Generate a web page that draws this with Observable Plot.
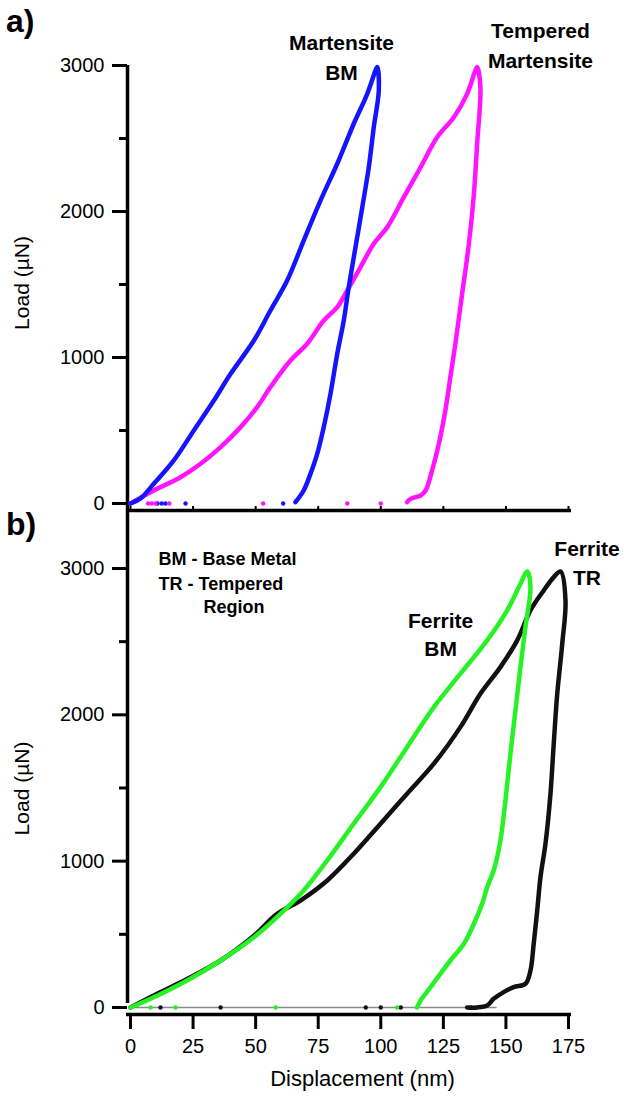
<!DOCTYPE html>
<html>
<head>
<meta charset="utf-8">
<script src="https://cdn.jsdelivr.net/npm/d3@7"></script>
<script src="https://cdn.jsdelivr.net/npm/@observablehq/plot@0.6"></script>
<style>
  html, body { margin: 0; padding: 0; background: #fff; }
  #wrap { position: relative; width: 624px; height: 1097px; overflow: hidden; font-family: 'Liberation Sans', Arial, Helvetica, sans-serif; }
  #topPanel, #botPanel { position: absolute; left: 0; }
  #topPanel { top: 0; }
  #botPanel { top: 500px; }
  .tag { position: absolute; left: 6px; font-weight: bold; font-size: 32px; line-height: 1; color: #000; }
</style>
</head>
<body>
<div id="wrap">
  <div id="topPanel"></div>
  <div id="botPanel"></div>
  <div class="tag" style="top:5px">a)</div>
  <div class="tag" style="top:508px">b)</div>
</div>
<script>
// ---- axis ticks ----
const xTicks = [0, 25, 50, 75, 100, 125, 150, 175];
const yTicks = [0, 1000, 2000, 3000];
const yMinorTicks = [500, 1500, 2500];

// ---- series: [displacement (nm), load (µN)] — loading then unloading ----
const martensiteBM = [
  [0,0],[4,35],[9.3,135],[17.3,295],[25.3,500],[33.3,705],[40,888],[49.3,1116],[55.9,1322],
  [62.6,1527],[69.2,1801],[75.9,2075],[82.6,2327],[89.2,2601],[94.6,2806],[97.9,2966],[98.6,2990],
  [99.2,2829],[97.2,2578],[95.2,2303],[92.6,2029],[89.9,1756],[87.2,1482],[85.2,1253],[82.6,1025],
  [79.9,751],[77.2,523],[74.6,340],[71.9,203],[69.2,89],[65.9,9]
];
const temperedMartensite = [
  [0,0],[9.3,89],[20,180],[28,272],[36,386],[44,523],[50.6,660],[55.9,797],[63.9,979],[70.6,1094],
  [77.2,1253],[82.6,1345],[86.6,1459],[91.9,1619],[97.2,1779],[102.6,1893],[109.2,2098],[115.9,2303],
  [122.5,2509],[129.2,2646],[134.5,2806],[137.8,2966],[138.5,2990],
  [139.8,2851],[138.5,2464],[137.2,2121],[135.2,1779],[132.5,1436],[129.8,1094],[127.8,865],
  [125.8,637],[123.2,409],[120.5,226],[117.9,89],[115.9,55],[111.9,32],[110.5,9]
];
const ferriteBM = [
  [0,0],[9.3,70],[22.6,185],[36,321],[49.3,480],[59.9,640],[69.2,800],[78.6,1005],[89.2,1256],
  [99.9,1506],[110.5,1779],[121.2,2053],[131.8,2281],[142.5,2509],[150.5,2714],[155.8,2896],[158.5,2980],
  [159.8,2873],[157.8,2600],[155.8,2326],[153.8,2030],[151.8,1734],[149.8,1415],[147.8,1141],[145.1,936],
  [142.5,822],[140.5,709],[137.2,572],[133.2,435],[127.8,321],[123.8,230],[119.9,139],[115.9,48],[114.5,0]
];
const ferriteTR = [
  [0,0],[9.3,82],[22.6,194],[36,321],[49.3,490],[58.6,640],[67.9,731],[78.6,868],[89.2,1051],
  [99.9,1256],[110.5,1461],[121.2,1666],[131.8,1916],[139.8,2144],[147.8,2326],[154.5,2509],
  [159.8,2714],[165.1,2850],[169.1,2941],[171.8,2980],
  [173.8,2782],[172.5,2486],[170.5,2144],[169.1,1802],[167.8,1461],[165.8,1119],[163.8,891],
  [162.5,663],[161.1,435],[159.8,253],[157.8,162],[153.1,139],[149.1,105],[145.1,59],[142.5,14],
  [138.5,0],[134.5,0]
];
// scattered points recorded near zero load (displacement, nm)
const martensiteBMZero = [10.8, 12.5, 14, 22, 61];
const temperedMartensiteZero = [7, 8.5, 10, 15.5, 53, 86.6, 100];
const ferriteBMZero = [8, 18, 58, 106.5];
const ferriteTRZero = [12, 36, 94, 100, 108, 136];
const ferriteTRReturn = [[2, 0], [146, 0]];

// ---- annotation text ----
const topLabels = [
  {x: 84.3, y: 3068, text: "Martensite\nBM"},
  {x: 163.8, y: 3149, text: "Tempered\nMartensite"}
];
const bottomLabels = [
  {x: 123.9, y: 2561, text: "Ferrite\nBM"},
  {x: 182.4, y: 3047, text: "Ferrite\nTR"}
];
const legendLines = [
  {x: 11.2, y: 3061, text: "BM - Base Metal"},
  {x: 11.2, y: 2890, text: "TR - Tempered"},
  {x: 29.2, y: 2733, text: "Region"}
];

const FONT = "'Liberation Sans', Arial, Helvetica, sans-serif";
const BLUE = "#1414ff", MAGENTA = "#ff14ff", GREEN = "#26f226", BLACK = "#111111";
const Y_DOMAIN = [-48, 3000];

function yAxisMarks(labelDy) {
  return [
    Plot.axisY(yTicks, {tickSize: 15, tickPadding: 8, strokeWidth: 3, fontSize: 20, dx: -3, tickFormat: "d", label: null}),
    Plot.axisY(yMinorTicks, {tickSize: 8, strokeWidth: 3, dx: -3, tickFormat: () => "", label: null}),
    Plot.text(["Load (µN)"], {frameAnchor: "left", textAnchor: "middle", rotate: -90, dx: -108, dy: labelDy, fontSize: 21})
  ];
}
function series(data, color) {
  return Plot.line(data, {x: d => d[0], y: d => d[1], curve: "catmull-rom", stroke: color, strokeWidth: 4.5, strokeLinejoin: "round", strokeLinecap: "round"});
}
function zeros(data, color) {
  return Plot.dot(data, {x: d => d, y: () => 0, r: 2.2, fill: color, stroke: null});
}
const labelStyle = {x: "x", y: "y", text: "text", fontWeight: "bold", fontSize: 21, lineAnchor: "middle"};

const topPlot = Plot.plot({
  width: 624, height: 512,
  marginTop: 65, marginBottom: 2, marginLeft: 130, marginRight: 56,
  style: {fontFamily: FONT, background: "transparent", overflow: "visible", color: "#000"},
  x: {domain: [0, 175], axis: null},
  y: {domain: Y_DOMAIN},
  marks: [
    Plot.ruleX([0], {dx: -3, strokeWidth: 3.5}),
    Plot.ruleY([0], {dy: 7, strokeWidth: 3.5, insetLeft: -4, insetRight: -3}),
    Plot.tickX(xTicks, {insetTop: 441, strokeWidth: 2}),
    ...yAxisMarks(-5),
    zeros(martensiteBMZero, BLUE),
    zeros(temperedMartensiteZero, MAGENTA),
    series(temperedMartensite, MAGENTA),
    series(martensiteBM, BLUE),
    Plot.text(topLabels, {...labelStyle, lineHeight: 1.43})
  ]
});
document.getElementById("topPanel").appendChild(topPlot);

const botPlot = Plot.plot({
  width: 624, height: 597,
  marginTop: 68, marginBottom: 83, marginLeft: 130, marginRight: 56,
  style: {fontFamily: FONT, background: "transparent", overflow: "visible", color: "#000"},
  x: {domain: [0, 175]},
  y: {domain: Y_DOMAIN},
  marks: [
    Plot.ruleX([0], {dx: -3, strokeWidth: 3.5, insetTop: -58, insetBottom: 11}),
    Plot.ruleY([0], {dy: 7, strokeWidth: 3.5, insetLeft: -4, insetRight: -3}),
    Plot.axisX(xTicks, {tickSize: 15, tickPadding: 9, strokeWidth: 3, fontSize: 20, tickFormat: "d", label: null}),
    Plot.text(["Displacement (nm)"], {frameAnchor: "bottom", dx: 13, dy: 71, fontSize: 22}),
    ...yAxisMarks(-3),
    Plot.line(ferriteTRReturn, {x: d => d[0], y: d => d[1], stroke: "#8a8a8a", strokeWidth: 1.5}),
    zeros(ferriteTRZero, BLACK),
    zeros(ferriteBMZero, GREEN),
    series(ferriteTR, BLACK),
    series(ferriteBM, GREEN),
    Plot.text(bottomLabels, {...labelStyle, lineHeight: 1.38}),
    Plot.text(legendLines, {x: "x", y: "y", text: "text", textAnchor: "start", fontWeight: "bold", fontSize: 18})
  ]
});
document.getElementById("botPanel").appendChild(botPlot);
</script>
</body>
</html>
